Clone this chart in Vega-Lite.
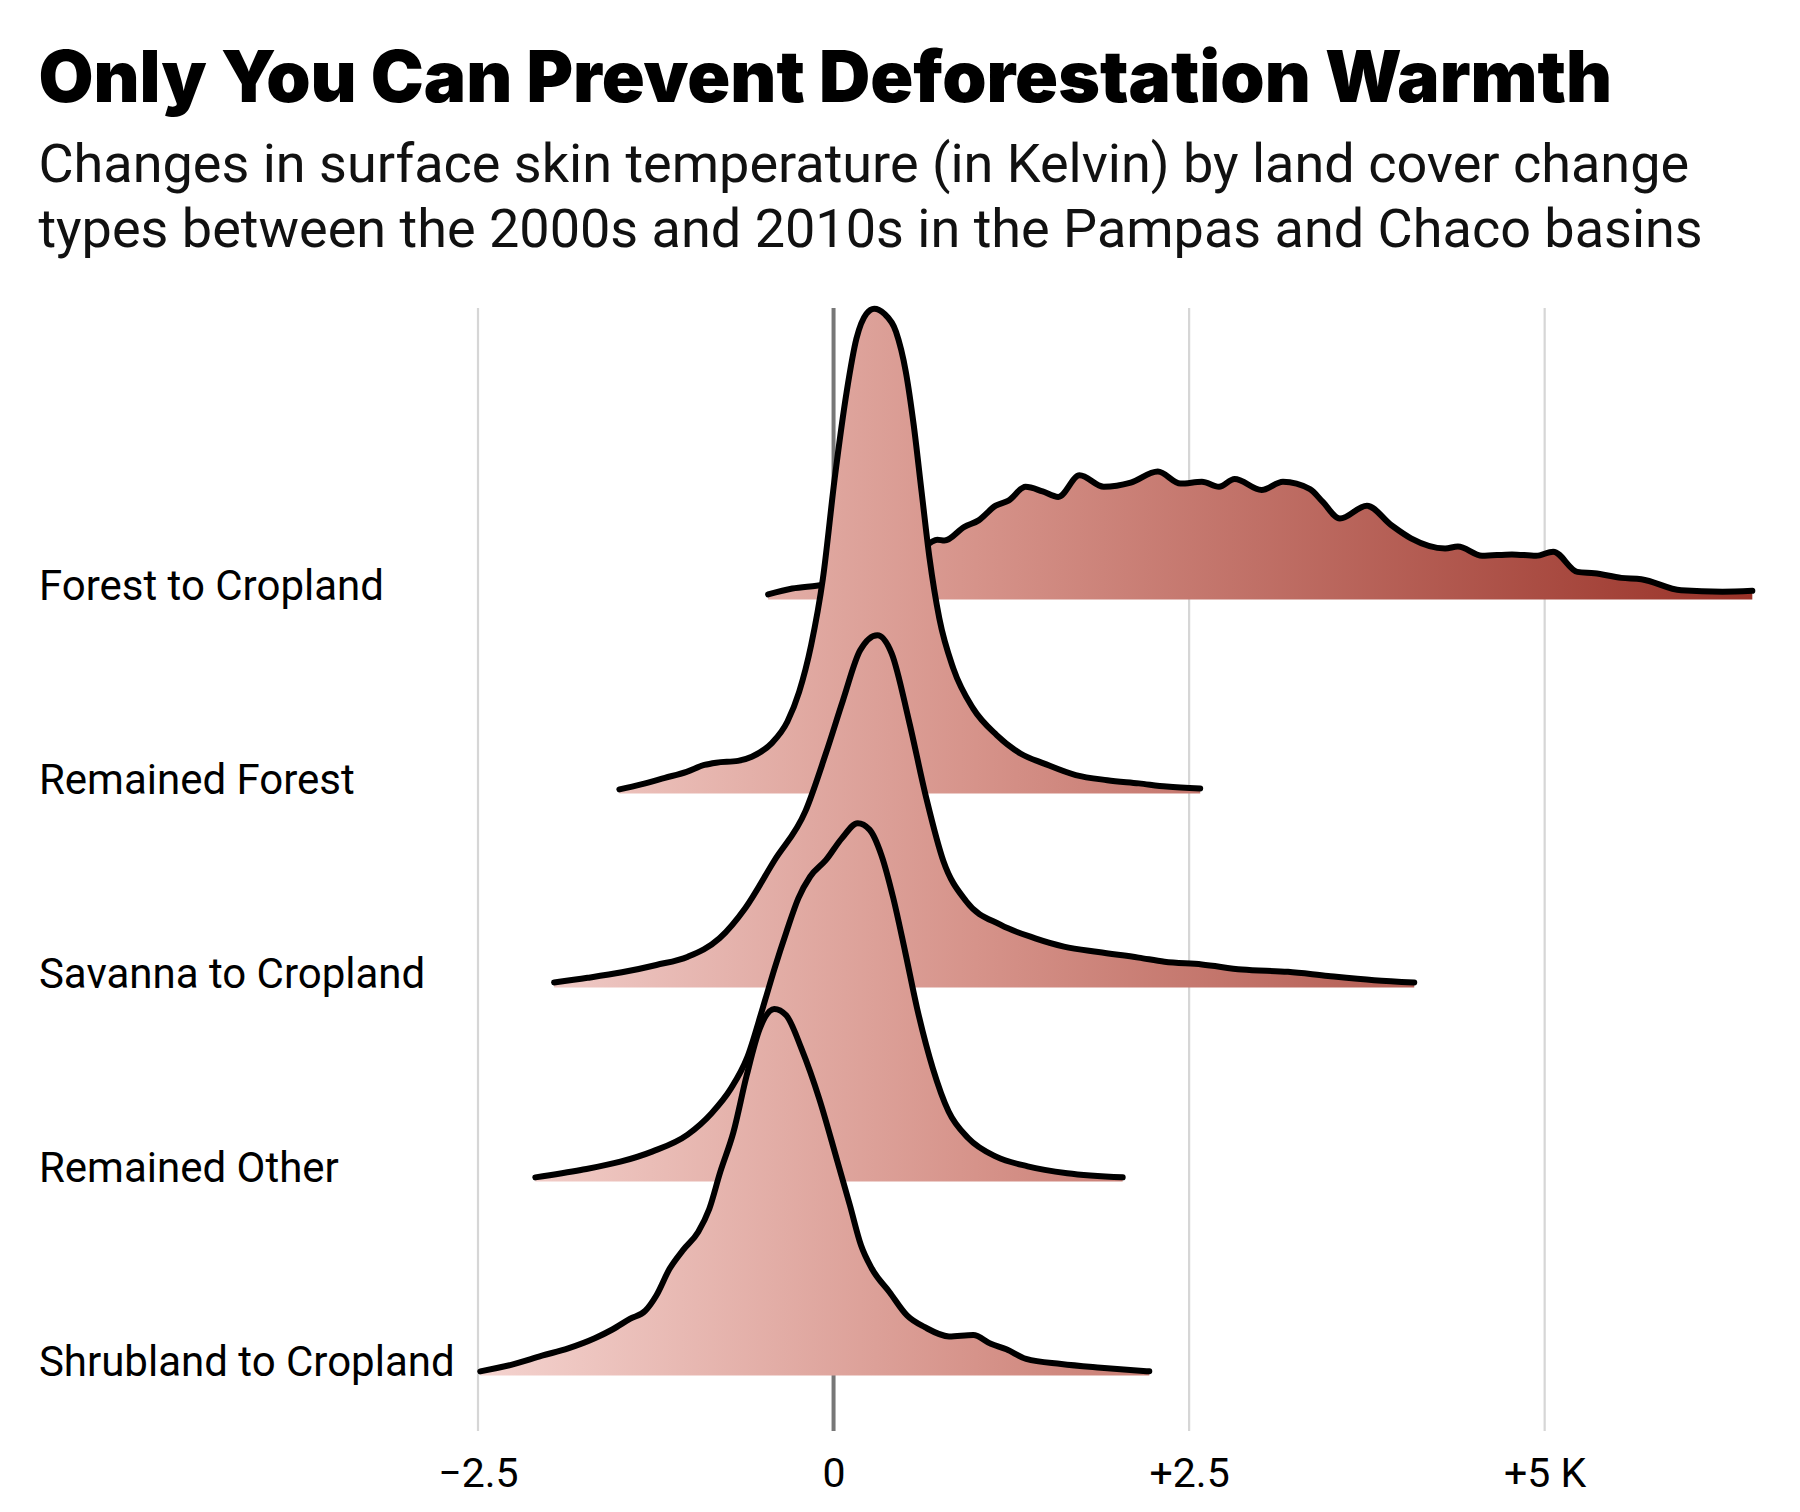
{
  "$schema": "https://vega.github.io/schema/vega-lite/v6.json",
  "width": 1280,
  "height": 1123,
  "padding": {"left": 38, "top": 44, "right": 20, "bottom": 10},
  "autosize": {"type": "pad"},
  "background": "white",
  "title": {
    "text": "Only You Can Prevent Deforestation Warmth",
    "subtitle": ["Changes in surface skin temperature (in Kelvin) by land cover change", "types between the 2000s and 2010s in the Pampas and Chaco basins"],
    "anchor": "start",
    "frame": "bounds",
    "font": "Inter",
    "fontSize": 71,
    "fontWeight": 900,
    "color": "#000000",
    "subtitleFont": "Roboto",
    "subtitleFontSize": 54,
    "subtitleFontWeight": 400,
    "subtitleColor": "#111111",
    "subtitleLineHeight": 65,
    "subtitlePadding": 22,
    "offset": 47
  },
  "datasets": {
    "ridges": [
      {"type": "Forest to Cropland", "temp": -0.46, "density": 0.011},
      {"type": "Forest to Cropland", "temp": -0.29, "density": 0.024},
      {"type": "Forest to Cropland", "temp": -0.12, "density": 0.030},
      {"type": "Forest to Cropland", "temp": 0.0, "density": 0.035},
      {"type": "Forest to Cropland", "temp": 0.2, "density": 0.043},
      {"type": "Forest to Cropland", "temp": 0.4, "density": 0.065},
      {"type": "Forest to Cropland", "temp": 0.6, "density": 0.104},
      {"type": "Forest to Cropland", "temp": 0.73, "density": 0.130},
      {"type": "Forest to Cropland", "temp": 0.78, "density": 0.128},
      {"type": "Forest to Cropland", "temp": 0.92, "density": 0.158},
      {"type": "Forest to Cropland", "temp": 1.02, "density": 0.172},
      {"type": "Forest to Cropland", "temp": 1.14, "density": 0.204},
      {"type": "Forest to Cropland", "temp": 1.23, "density": 0.215},
      {"type": "Forest to Cropland", "temp": 1.35, "density": 0.245},
      {"type": "Forest to Cropland", "temp": 1.47, "density": 0.235},
      {"type": "Forest to Cropland", "temp": 1.58, "density": 0.223},
      {"type": "Forest to Cropland", "temp": 1.73, "density": 0.270},
      {"type": "Forest to Cropland", "temp": 1.90, "density": 0.245},
      {"type": "Forest to Cropland", "temp": 2.09, "density": 0.254},
      {"type": "Forest to Cropland", "temp": 2.28, "density": 0.278},
      {"type": "Forest to Cropland", "temp": 2.44, "density": 0.252},
      {"type": "Forest to Cropland", "temp": 2.59, "density": 0.256},
      {"type": "Forest to Cropland", "temp": 2.71, "density": 0.245},
      {"type": "Forest to Cropland", "temp": 2.82, "density": 0.262},
      {"type": "Forest to Cropland", "temp": 3.01, "density": 0.238},
      {"type": "Forest to Cropland", "temp": 3.16, "density": 0.256},
      {"type": "Forest to Cropland", "temp": 3.35, "density": 0.240},
      {"type": "Forest to Cropland", "temp": 3.44, "density": 0.212},
      {"type": "Forest to Cropland", "temp": 3.56, "density": 0.176},
      {"type": "Forest to Cropland", "temp": 3.75, "density": 0.204},
      {"type": "Forest to Cropland", "temp": 3.92, "density": 0.162},
      {"type": "Forest to Cropland", "temp": 4.06, "density": 0.133},
      {"type": "Forest to Cropland", "temp": 4.30, "density": 0.111},
      {"type": "Forest to Cropland", "temp": 4.39, "density": 0.115},
      {"type": "Forest to Cropland", "temp": 4.56, "density": 0.095},
      {"type": "Forest to Cropland", "temp": 4.77, "density": 0.098},
      {"type": "Forest to Cropland", "temp": 4.94, "density": 0.095},
      {"type": "Forest to Cropland", "temp": 5.06, "density": 0.104},
      {"type": "Forest to Cropland", "temp": 5.23, "density": 0.060},
      {"type": "Forest to Cropland", "temp": 5.35, "density": 0.057},
      {"type": "Forest to Cropland", "temp": 5.54, "density": 0.047},
      {"type": "Forest to Cropland", "temp": 5.68, "density": 0.044},
      {"type": "Forest to Cropland", "temp": 5.96, "density": 0.020},
      {"type": "Forest to Cropland", "temp": 6.25, "density": 0.017},
      {"type": "Forest to Cropland", "temp": 6.46, "density": 0.019},

      {"type": "Remained Forest", "temp": -1.506, "density": 0.009},
      {"type": "Remained Forest", "temp": -1.353, "density": 0.020},
      {"type": "Remained Forest", "temp": -1.186, "density": 0.034},
      {"type": "Remained Forest", "temp": -1.033, "density": 0.047},
      {"type": "Remained Forest", "temp": -0.908, "density": 0.062},
      {"type": "Remained Forest", "temp": -0.825, "density": 0.067},
      {"type": "Remained Forest", "temp": -0.672, "density": 0.071},
      {"type": "Remained Forest", "temp": -0.575, "density": 0.080},
      {"type": "Remained Forest", "temp": -0.436, "density": 0.109},
      {"type": "Remained Forest", "temp": -0.325, "density": 0.156},
      {"type": "Remained Forest", "temp": -0.242, "density": 0.221},
      {"type": "Remained Forest", "temp": -0.158, "density": 0.322},
      {"type": "Remained Forest", "temp": -0.075, "density": 0.467},
      {"type": "Remained Forest", "temp": 0.008, "density": 0.685},
      {"type": "Remained Forest", "temp": 0.092, "density": 0.873},
      {"type": "Remained Forest", "temp": 0.161, "density": 0.989},
      {"type": "Remained Forest", "temp": 0.231, "density": 1.043},
      {"type": "Remained Forest", "temp": 0.286, "density": 1.054},
      {"type": "Remained Forest", "temp": 0.356, "density": 1.043},
      {"type": "Remained Forest", "temp": 0.439, "density": 1.004},
      {"type": "Remained Forest", "temp": 0.508, "density": 0.917},
      {"type": "Remained Forest", "temp": 0.564, "density": 0.800},
      {"type": "Remained Forest", "temp": 0.619, "density": 0.656},
      {"type": "Remained Forest", "temp": 0.675, "density": 0.511},
      {"type": "Remained Forest", "temp": 0.744, "density": 0.380},
      {"type": "Remained Forest", "temp": 0.842, "density": 0.272},
      {"type": "Remained Forest", "temp": 0.981, "density": 0.185},
      {"type": "Remained Forest", "temp": 1.147, "density": 0.127},
      {"type": "Remained Forest", "temp": 1.314, "density": 0.087},
      {"type": "Remained Forest", "temp": 1.481, "density": 0.065},
      {"type": "Remained Forest", "temp": 1.703, "density": 0.040},
      {"type": "Remained Forest", "temp": 1.925, "density": 0.029},
      {"type": "Remained Forest", "temp": 2.147, "density": 0.022},
      {"type": "Remained Forest", "temp": 2.342, "density": 0.015},
      {"type": "Remained Forest", "temp": 2.578, "density": 0.011},

      {"type": "Savanna to Cropland", "temp": -1.965, "density": 0.011},
      {"type": "Savanna to Cropland", "temp": -1.730, "density": 0.021},
      {"type": "Savanna to Cropland", "temp": -1.488, "density": 0.033},
      {"type": "Savanna to Cropland", "temp": -1.246, "density": 0.049},
      {"type": "Savanna to Cropland", "temp": -1.024, "density": 0.067},
      {"type": "Savanna to Cropland", "temp": -0.802, "density": 0.107},
      {"type": "Savanna to Cropland", "temp": -0.620, "density": 0.173},
      {"type": "Savanna to Cropland", "temp": -0.418, "density": 0.275},
      {"type": "Savanna to Cropland", "temp": -0.197, "density": 0.384},
      {"type": "Savanna to Cropland", "temp": -0.055, "density": 0.508},
      {"type": "Savanna to Cropland", "temp": 0.066, "density": 0.624},
      {"type": "Savanna to Cropland", "temp": 0.187, "density": 0.733},
      {"type": "Savanna to Cropland", "temp": 0.308, "density": 0.766},
      {"type": "Savanna to Cropland", "temp": 0.409, "density": 0.726},
      {"type": "Savanna to Cropland", "temp": 0.530, "density": 0.580},
      {"type": "Savanna to Cropland", "temp": 0.651, "density": 0.413},
      {"type": "Savanna to Cropland", "temp": 0.772, "density": 0.275},
      {"type": "Savanna to Cropland", "temp": 0.934, "density": 0.187},
      {"type": "Savanna to Cropland", "temp": 1.176, "density": 0.136},
      {"type": "Savanna to Cropland", "temp": 1.418, "density": 0.107},
      {"type": "Savanna to Cropland", "temp": 1.620, "density": 0.089},
      {"type": "Savanna to Cropland", "temp": 1.862, "density": 0.077},
      {"type": "Savanna to Cropland", "temp": 2.145, "density": 0.065},
      {"type": "Savanna to Cropland", "temp": 2.327, "density": 0.056},
      {"type": "Savanna to Cropland", "temp": 2.589, "density": 0.050},
      {"type": "Savanna to Cropland", "temp": 2.872, "density": 0.039},
      {"type": "Savanna to Cropland", "temp": 3.195, "density": 0.034},
      {"type": "Savanna to Cropland", "temp": 3.478, "density": 0.025},
      {"type": "Savanna to Cropland", "temp": 3.801, "density": 0.016},
      {"type": "Savanna to Cropland", "temp": 4.083, "density": 0.011},

      {"type": "Remained Other", "temp": -2.097, "density": 0.009},
      {"type": "Remained Other", "temp": -1.777, "density": 0.025},
      {"type": "Remained Other", "temp": -1.499, "density": 0.043},
      {"type": "Remained Other", "temp": -1.276, "density": 0.065},
      {"type": "Remained Other", "temp": -1.026, "density": 0.102},
      {"type": "Remained Other", "temp": -0.859, "density": 0.148},
      {"type": "Remained Other", "temp": -0.720, "density": 0.203},
      {"type": "Remained Other", "temp": -0.609, "density": 0.268},
      {"type": "Remained Other", "temp": -0.498, "density": 0.377},
      {"type": "Remained Other", "temp": -0.414, "density": 0.464},
      {"type": "Remained Other", "temp": -0.331, "density": 0.543},
      {"type": "Remained Other", "temp": -0.247, "density": 0.616},
      {"type": "Remained Other", "temp": -0.164, "density": 0.663},
      {"type": "Remained Other", "temp": -0.053, "density": 0.699},
      {"type": "Remained Other", "temp": 0.058, "density": 0.746},
      {"type": "Remained Other", "temp": 0.170, "density": 0.779},
      {"type": "Remained Other", "temp": 0.253, "density": 0.765},
      {"type": "Remained Other", "temp": 0.336, "density": 0.710},
      {"type": "Remained Other", "temp": 0.420, "density": 0.616},
      {"type": "Remained Other", "temp": 0.503, "density": 0.500},
      {"type": "Remained Other", "temp": 0.587, "density": 0.377},
      {"type": "Remained Other", "temp": 0.698, "density": 0.246},
      {"type": "Remained Other", "temp": 0.809, "density": 0.152},
      {"type": "Remained Other", "temp": 0.948, "density": 0.094},
      {"type": "Remained Other", "temp": 1.143, "density": 0.054},
      {"type": "Remained Other", "temp": 1.365, "density": 0.033},
      {"type": "Remained Other", "temp": 1.643, "density": 0.018},
      {"type": "Remained Other", "temp": 2.033, "density": 0.009},

      {"type": "Shrubland to Cropland", "temp": -2.484, "density": 0.009},
      {"type": "Shrubland to Cropland", "temp": -2.267, "density": 0.023},
      {"type": "Shrubland to Cropland", "temp": -2.050, "density": 0.043},
      {"type": "Shrubland to Cropland", "temp": -1.866, "density": 0.059},
      {"type": "Shrubland to Cropland", "temp": -1.679, "density": 0.081},
      {"type": "Shrubland to Cropland", "temp": -1.555, "density": 0.100},
      {"type": "Shrubland to Cropland", "temp": -1.432, "density": 0.123},
      {"type": "Shrubland to Cropland", "temp": -1.323, "density": 0.141},
      {"type": "Shrubland to Cropland", "temp": -1.246, "density": 0.174},
      {"type": "Shrubland to Cropland", "temp": -1.153, "density": 0.232},
      {"type": "Shrubland to Cropland", "temp": -1.060, "density": 0.272},
      {"type": "Shrubland to Cropland", "temp": -0.952, "density": 0.312},
      {"type": "Shrubland to Cropland", "temp": -0.874, "density": 0.362},
      {"type": "Shrubland to Cropland", "temp": -0.797, "density": 0.442},
      {"type": "Shrubland to Cropland", "temp": -0.704, "density": 0.529},
      {"type": "Shrubland to Cropland", "temp": -0.611, "density": 0.652},
      {"type": "Shrubland to Cropland", "temp": -0.519, "density": 0.754},
      {"type": "Shrubland to Cropland", "temp": -0.417, "density": 0.797},
      {"type": "Shrubland to Cropland", "temp": -0.333, "density": 0.783},
      {"type": "Shrubland to Cropland", "temp": -0.225, "density": 0.710},
      {"type": "Shrubland to Cropland", "temp": -0.101, "density": 0.602},
      {"type": "Shrubland to Cropland", "temp": 0.022, "density": 0.471},
      {"type": "Shrubland to Cropland", "temp": 0.115, "density": 0.370},
      {"type": "Shrubland to Cropland", "temp": 0.193, "density": 0.283},
      {"type": "Shrubland to Cropland", "temp": 0.270, "density": 0.232},
      {"type": "Shrubland to Cropland", "temp": 0.394, "density": 0.181},
      {"type": "Shrubland to Cropland", "temp": 0.518, "density": 0.130},
      {"type": "Shrubland to Cropland", "temp": 0.642, "density": 0.105},
      {"type": "Shrubland to Cropland", "temp": 0.812, "density": 0.085},
      {"type": "Shrubland to Cropland", "temp": 0.982, "density": 0.088},
      {"type": "Shrubland to Cropland", "temp": 1.106, "density": 0.069},
      {"type": "Shrubland to Cropland", "temp": 1.215, "density": 0.057},
      {"type": "Shrubland to Cropland", "temp": 1.354, "density": 0.036},
      {"type": "Shrubland to Cropland", "temp": 1.601, "density": 0.025},
      {"type": "Shrubland to Cropland", "temp": 1.880, "density": 0.017},
      {"type": "Shrubland to Cropland", "temp": 2.220, "density": 0.009}
    ],
    "gridticks": [
      {"k": -2.5}, {"k": 0}, {"k": 2.5}, {"k": 5}
    ]
  },
  "data": {"name": "ridges"},
  "layer": [
    {
      "data": {"name": "gridticks"},
      "mark": {"type": "rule"},
      "encoding": {
        "x": {"field": "k", "type": "quantitative", "scale": {"domain": [-2.5, 6.5], "nice": false, "zero": false},
              "axis": {"values": [-2.5, 0, 2.5, 5], "title": null, "domain": false, "ticks": false, "tickSize": 0, "labelPadding": 23,
                       "labelExpr": "datum.value == -2.5 ? '−2.5' : datum.value == 0 ? '0' : datum.value == 2.5 ? '+2.5' : '+5 K'",
                       "labelFont": "Roboto", "labelFontSize": 41, "labelColor": "#000000", "labelFlush": false, "grid": false}},
        "color": {"condition": {"test": "datum.k === 0", "value": "#777777"}, "value": "#d6d6d6"},
        "strokeWidth": {"condition": {"test": "datum.k === 0", "value": 4}, "value": 2.2}
      }
    },
    {
      "transform": [{"aggregate": [{"op": "count", "as": "n"}], "groupby": ["type"]}],
      "mark": {"type": "point", "opacity": 0, "size": 1},
      "encoding": {
        "y": {
          "field": "type", "type": "nominal",
          "sort": ["Forest to Cropland", "Remained Forest", "Savanna to Cropland", "Remained Other", "Shrubland to Cropland"],
          "scale": {"type": "point", "range": [291.5, 1067.5], "padding": 0},
          "axis": {"orient": "left", "title": null, "domain": false, "ticks": false, "tickSize": 0, "grid": false,
                   "labelAlign": "left", "labelBaseline": "alphabetic", "labelPadding": 439.6, "labelLimit": 0,
                   "labelFont": "Roboto", "labelFontSize": 42, "labelColor": "#000000"}
        }
      }
    },
    {
      "transform": [{"filter": "datum.type === 'Forest to Cropland'"}],
      "encoding": {
        "x": {"field": "temp", "type": "quantitative", "scale": {"domain": [-2.5, 6.5], "nice": false, "zero": false}},
        "y": {"field": "density", "type": "quantitative", "scale": {"domain": [0, 1], "range": [291.5, -168.5], "nice": false, "zero": true}, "axis": null}
      },
      "layer": [
        {"mark": {"type": "area", "interpolate": "monotone", "opacity": 1,
          "fill": {"gradient": "linear", "x1": 0, "x2": 1, "y1": 0, "y2": 0,
            "stops": [{"offset": 0, "color": "#e3aea7"}, {"offset": 0.211, "color": "#d6938a"}, {"offset": 1, "color": "#993228"}]}}},
        {"mark": {"type": "line", "interpolate": "monotone", "color": "#000000", "strokeWidth": 6, "strokeCap": "round", "strokeJoin": "round"}}
      ]
    },
    {
      "transform": [{"filter": "datum.type === 'Remained Forest'"}],
      "encoding": {
        "x": {"field": "temp", "type": "quantitative", "scale": {"domain": [-2.5, 6.5], "nice": false, "zero": false}},
        "y": {"field": "density", "type": "quantitative", "scale": {"domain": [0, 1], "range": [485.5, 25.5], "nice": false, "zero": true}, "axis": null}
      },
      "layer": [
        {"mark": {"type": "area", "interpolate": "monotone", "opacity": 1,
          "fill": {"gradient": "linear", "x1": 0, "x2": 1, "y1": 0, "y2": 0,
            "stops": [{"offset": 0, "color": "#ecc1bb"}, {"offset": 0.614, "color": "#d6938a"}, {"offset": 1, "color": "#c5776e"}]}}},
        {"mark": {"type": "line", "interpolate": "monotone", "color": "#000000", "strokeWidth": 6, "strokeCap": "round", "strokeJoin": "round"}}
      ]
    },
    {
      "transform": [{"filter": "datum.type === 'Savanna to Cropland'"}],
      "encoding": {
        "x": {"field": "temp", "type": "quantitative", "scale": {"domain": [-2.5, 6.5], "nice": false, "zero": false}},
        "y": {"field": "density", "type": "quantitative", "scale": {"domain": [0, 1], "range": [679.5, 219.5], "nice": false, "zero": true}, "axis": null}
      },
      "layer": [
        {"mark": {"type": "area", "interpolate": "monotone", "opacity": 1,
          "fill": {"gradient": "linear", "x1": 0, "x2": 1, "y1": 0, "y2": 0,
            "stops": [{"offset": 0, "color": "#efc9c5"}, {"offset": 0.49, "color": "#d6938a"}, {"offset": 1, "color": "#b45d53"}]}}},
        {"mark": {"type": "line", "interpolate": "monotone", "color": "#000000", "strokeWidth": 6, "strokeCap": "round", "strokeJoin": "round"}}
      ]
    },
    {
      "transform": [{"filter": "datum.type === 'Remained Other'"}],
      "encoding": {
        "x": {"field": "temp", "type": "quantitative", "scale": {"domain": [-2.5, 6.5], "nice": false, "zero": false}},
        "y": {"field": "density", "type": "quantitative", "scale": {"domain": [0, 1], "range": [873.5, 413.5], "nice": false, "zero": true}, "axis": null}
      },
      "layer": [
        {"mark": {"type": "area", "interpolate": "monotone", "opacity": 1,
          "fill": {"gradient": "linear", "x1": 0, "x2": 1, "y1": 0, "y2": 0,
            "stops": [{"offset": 0, "color": "#f1ccc7"}, {"offset": 0.75, "color": "#d6938a"}, {"offset": 1, "color": "#cb8178"}]}}},
        {"mark": {"type": "line", "interpolate": "monotone", "color": "#000000", "strokeWidth": 6, "strokeCap": "round", "strokeJoin": "round"}}
      ]
    },
    {
      "transform": [{"filter": "datum.type === 'Shrubland to Cropland'"}],
      "encoding": {
        "x": {"field": "temp", "type": "quantitative", "scale": {"domain": [-2.5, 6.5], "nice": false, "zero": false}},
        "y": {"field": "density", "type": "quantitative", "scale": {"domain": [0, 1], "range": [1067.5, 607.5], "nice": false, "zero": true}, "axis": null}
      },
      "layer": [
        {"mark": {"type": "area", "interpolate": "monotone", "opacity": 1,
          "fill": {"gradient": "linear", "x1": 0, "x2": 1, "y1": 0, "y2": 0,
            "stops": [{"offset": 0, "color": "#f4d3cf"}, {"offset": 0.741, "color": "#d6938a"}, {"offset": 1, "color": "#c97e74"}]}}},
        {"mark": {"type": "line", "interpolate": "monotone", "color": "#000000", "strokeWidth": 6, "strokeCap": "round", "strokeJoin": "round"}}
      ]
    }
  ],
  "resolve": {"scale": {"y": "independent"}},
  "config": {
    "view": {"stroke": null},
    "axis": {"labelFont": "Roboto"}
  }
}
